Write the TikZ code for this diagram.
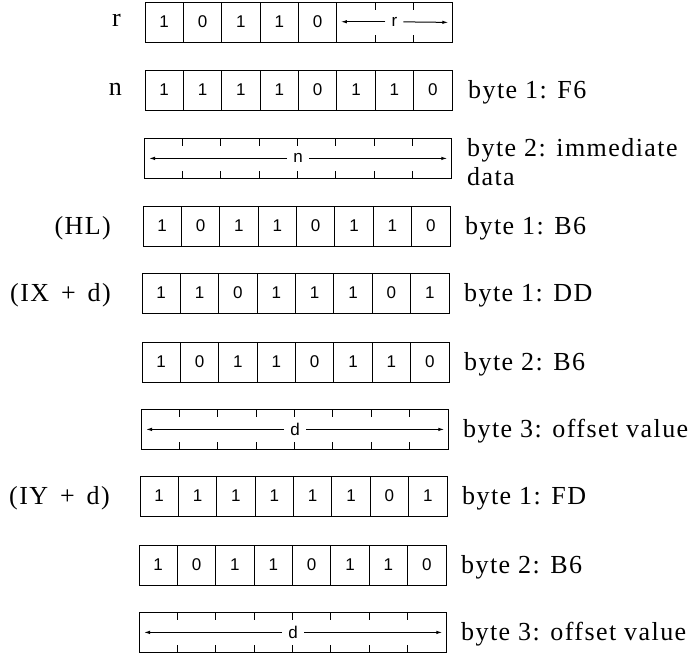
\documentclass[tikz,border=0pt]{standalone}
\usepackage{fontspec}
\setmainfont{Liberation Serif}[LetterSpace=5.5]
\newfontfamily\bitfont{Liberation Sans}
\usetikzlibrary{arrows.meta,calc}

\newcommand\cw{38.375}
% frame row: name, left x, top y
\newcommand\mkframe[3]{\node[frame] (#1) at (#2,#3) {};}
% bits: name, list starting at cell 1
\newcommand\mkbits[2]{%
  \foreach \b [count=\i] in {#2} {
    \node[bit] (#1-\i) at ($(#1.north west)+(\cw*\i-\cw/2,19.75)$) {\b};
  }}
\newcommand\mkdividers[3]{% name, from, to
  \foreach \k in {#2,...,#3} \draw[divider] ($(#1.north west)+(\cw*\k,0)$) -- ($(#1.south west)+(\cw*\k,0)$);}
\newcommand\mkticks[3]{% name, from, to
  \foreach \k in {#2,...,#3} {
    \draw[divider] ($(#1.north west)+(\cw*\k,0)$) -- ++(0,8);
    \draw[divider] ($(#1.south west)+(\cw*\k,0)$) -- ++(0,-8);
  }}
% full 8-cell field: name, label
\newcommand\mkfield[2]{%
  \mkticks{#1}{1}{7}
  \node[fieldlbl] (#1-l) at (#1.center) {#2};
  \coordinate (#1-a) at ($(#1.west)+(5,0)$);
  \coordinate (#1-b) at ($(#1.east)+(-5,0)$);
  \draw[fieldarrow] (#1-l) -- (#1-a);
  \draw[fieldarrow] (#1-l) -- (#1-b);}
\newcommand\wsp{\hspace{4pt}}

\begin{document}
\begin{tikzpicture}[x=1pt,y=-1pt]
\tikzset{
  frame/.style={draw, line width=1.3pt, minimum width=307pt, minimum height=39.5pt, inner sep=0pt, anchor=north west},
  divider/.style={line width=1.1pt},
  bit/.style={font=\bitfont\fontsize{17}{17}\selectfont, inner sep=0pt},
  lbl/.style={font=\fontsize{26}{29}\selectfont, inner sep=0pt, anchor=base west, align=left},
  leftlbl/.style={font=\fontsize{26}{29}\selectfont, inner sep=0pt, anchor=base east},
  fieldarrow/.style={line width=1pt, -{Latex[length=6pt,width=3.5pt]}},
  fieldlbl/.style={font=\bitfont\fontsize{17}{17}\selectfont, inner sep=6pt}
}
\useasboundingbox (0,0) rectangle (698,653);

% row r
\mkframe{R}{145}{2}
\mkbits{R}{1,0,1,1,0}
\mkdividers{R}{1}{5}
\mkticks{R}{6}{7}
\node[fieldlbl] (R-l) at ($(R.north west)+(\cw*6.5,19.75)$) {r};
\coordinate (R-a) at ($(R.north west)+(\cw*5+4,19.75)$);
\coordinate (R-b) at ($(R.east)+(-5,0)$);
\draw[fieldarrow] (R-l) -- (R-a);
\draw[fieldarrow] (R-l) -- (R-b);
\node[leftlbl] (Rt) at (121,26) {r};

% row n
\mkframe{N}{145}{70}
\mkbits{N}{1,1,1,1,0,1,1,0}
\mkdividers{N}{1}{7}
\node[leftlbl] (Nt) at (122,95) {n};
\node[lbl] (Nr) at (468,98) {byte 1: F6};

% row data
\mkframe{D}{144}{138}
\mkfield{D}{n}
\node[lbl] (Dr) at (467,185) {byte 2: immediate\\data};

% row HL
\mkframe{HL}{143}{206}
\mkbits{HL}{1,0,1,1,0,1,1,0}
\mkdividers{HL}{1}{7}
\node[leftlbl] (HLt) at (111,234) {(HL)};
\node[lbl] (HLr) at (465,234) {byte 1: B6};

% row IX
\mkframe{IX}{142}{273}
\mkbits{IX}{1,1,0,1,1,1,0,1}
\mkdividers{IX}{1}{7}
\node[leftlbl] (IXt) at (111,301) {(IX\wsp{} +\wsp{} d)};
\node[lbl] (IXr) at (464,301) {byte 1: DD};

% row B6 (IX)
\mkframe{XB}{142}{342}
\mkbits{XB}{1,0,1,1,0,1,1,0}
\mkdividers{XB}{1}{7}
\node[lbl] (XBr) at (464,370) {byte 2: B6};

% row d (IX)
\mkframe{XD}{141}{409}
\mkfield{XD}{d}
\node[lbl] (XDr) at (463,437) {byte 3: offset value};

% row IY
\mkframe{IY}{140}{476}
\mkbits{IY}{1,1,1,1,1,1,0,1}
\mkdividers{IY}{1}{7}
\node[leftlbl] (IYt) at (110,504) {(IY\wsp{} +\wsp{} d)};
\node[lbl] (IYr) at (462,504) {byte 1: FD};

% row B6 (IY)
\mkframe{YB}{139}{545}
\mkbits{YB}{1,0,1,1,0,1,1,0}
\mkdividers{YB}{1}{7}
\node[lbl] (YBr) at (461,573) {byte 2: B6};

% row d (IY)
\mkframe{YD}{139}{612}
\mkfield{YD}{d}
\node[lbl] (YDr) at (461,640) {byte 3: offset value};
\end{tikzpicture}
\end{document}
